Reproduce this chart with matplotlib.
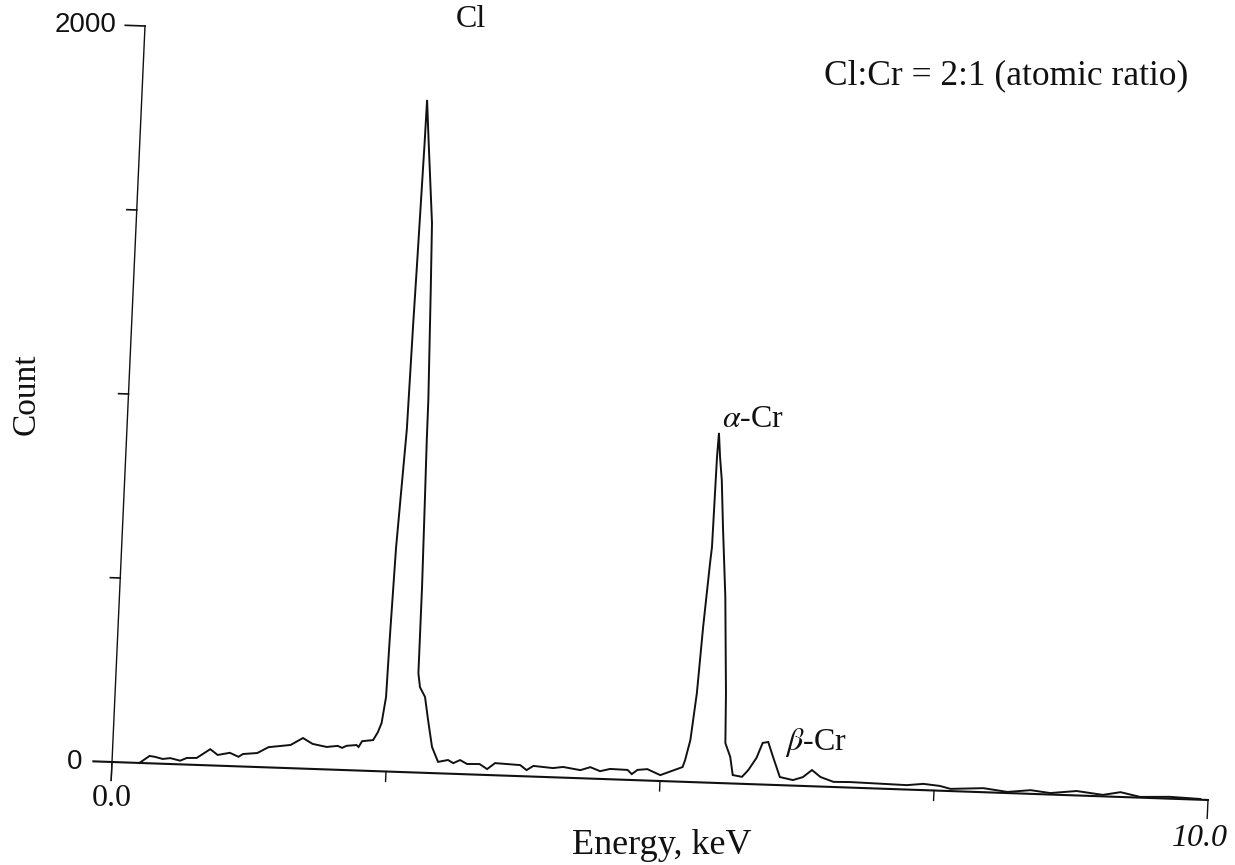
import numpy as np
import matplotlib
matplotlib.use("Agg")
import matplotlib.pyplot as plt
from matplotlib.transforms import Affine2D

# EDX spectrum (energy in keV, counts)
ENERGY = [
    0.25, 0.34, 0.39, 0.46, 0.53, 0.62, 0.68, 0.77, 0.89, 0.96,
    1.07, 1.15, 1.19, 1.32, 1.42, 1.62, 1.73, 1.82, 1.95, 2.05,
    2.09, 2.13, 2.22, 2.24, 2.27, 2.37, 2.41, 2.44, 2.47, 2.48,
    2.50, 2.54, 2.55, 2.565, 2.575, 2.595, 2.60, 2.63, 2.695, 2.711,
    2.734, 2.736, 2.743, 2.753, 2.755, 2.775, 2.825, 2.862, 2.909, 2.97,
    3.06, 3.11, 3.17, 3.235, 3.35, 3.42, 3.49, 3.72, 3.78, 3.84,
    4.02, 4.11, 4.27, 4.36, 4.45, 4.54, 4.70, 4.74, 4.79, 4.88,
    5.00, 5.15, 5.20, 5.22, 5.26, 5.30, 5.315, 5.33, 5.367, 5.378,
    5.387, 5.395, 5.415, 5.44, 5.47, 5.52, 5.565, 5.58, 5.63, 5.66,
    5.745, 5.80, 5.87, 5.92, 5.97, 6.02, 6.09, 6.21, 6.30, 6.38,
    6.46, 6.58, 6.73, 6.91, 7.25, 7.40, 7.55, 7.65, 7.95, 8.17,
    8.38, 8.56, 8.80, 9.04, 9.20, 9.38, 9.65, 9.93,
]
COUNTS = [
    0, 20, 18, 13, 16, 10, 18, 19, 44, 29,
    36, 26, 34, 38, 55, 63, 83, 68, 61, 65,
    60, 66, 69, 64, 80, 84, 106, 131, 202, 363,
    607, 866, 930, 1219, 1372, 1709, 1826, 1717, 1492, 1310,
    1012, 903, 748, 504, 270, 232, 206, 144, 71, 31,
    37, 29, 38, 28, 29, 16, 33, 30, 17, 29,
    25, 29, 22, 31, 21, 28, 27, 16, 28, 31,
    16, 34, 40, 59, 114, 242, 332, 422, 596, 640,
    884, 950, 884, 822, 695, 505, 245, 109, 72, 23,
    19, 38, 72, 113, 116, 76, 22, 15, 24, 44,
    26, 14, 15, 14, 12, 17, 13, 6, 11, 3,
    10, 4, 12, 4, 13, 2, 5, 2,
]
X_TICKS = [0, 2.5, 5, 7.5, 10]
Y_TICKS = [0, 500, 1000, 1500, 2000]
PEAKS = {"Cl": (2.83, 2026), r"$\alpha$-Cr": (5.42, 966), r"$\beta$-Cr": (6.13, 96)}

W, H = 1235, 865
plt.rcParams.update({"font.family": "Liberation Serif", "mathtext.fontset": "stix"})

fig = plt.figure(figsize=(W / 100, H / 100), dpi=100)
fig.patch.set_facecolor("white")
ax = fig.add_axes([112 / W, 103 / H, 1096 / W, 736 / H])
ax.set_xlim(0, 10)
ax.set_ylim(0, 2000)
ax.set_axis_off()

# the scanned page is slightly skewed: shear the data frame about the origin
ox, oy = ax.transAxes.transform((0, 0))
shear = (Affine2D().translate(-ox, -oy)
         + Affine2D(np.array([[1, 33 / 736, 0], [-38 / 1096, 1, 0], [0, 0, 1]]))
         + Affine2D().translate(ox, oy))
tr = ax.transData + shear

ink = "#111111"
ax.plot(ENERGY, COUNTS, color=ink, lw=1.4, transform=tr, clip_on=False,
        solid_joinstyle="miter")

# hand-drawn style axes
ax.plot([-0.17, 10], [0, 0], color=ink, lw=1.5, transform=tr, clip_on=False)
ax.plot([0, 0], [-50, 2000], color=ink, lw=1.0, transform=tr, clip_on=False)
for t in X_TICKS:
    ln = 50 if t in (0, 10) else 27
    ax.plot([t, t], [0, -ln], color=ink, lw=1.0, transform=tr, clip_on=False)
for t in Y_TICKS[1:]:
    ln = 0.18 if t == 2000 else 0.09
    ax.plot([-ln, 0], [t, t], color=ink, lw=1.2, transform=tr, clip_on=False)

for lab, (px, py) in PEAKS.items():
    ax.text(px, py, lab, transform=tr, fontsize=23, ha="left", va="baseline",
            color=ink)


def fpos(x, y):
    return x / W, 1 - y / H


fig.text(*fpos(117, 25), "2000", family="Liberation Sans", fontsize=20,
         ha="right", va="center", color=ink)
fig.text(*fpos(82, 762), "0", family="Liberation Sans", fontsize=20,
         ha="right", va="center", color=ink)
fig.text(*fpos(112, 799), "0.0", fontsize=23, ha="center", va="center", color=ink)
fig.text(*fpos(1200, 839), "10.0", fontsize=23, style="italic",
         ha="center", va="center", color=ink)
fig.text(*fpos(26, 394), "Count", fontsize=24, rotation=90,
         ha="center", va="center", color=ink)
fig.text(*fpos(662, 846), "Energy, keV", fontsize=26, ha="center", va="center",
         color=ink)
fig.text(*fpos(1006, 76), "Cl:Cr = 2:1 (atomic ratio)", fontsize=25.5,
         ha="center", va="center", color=ink)

fig.savefig("out.png", dpi=100, facecolor="white")
